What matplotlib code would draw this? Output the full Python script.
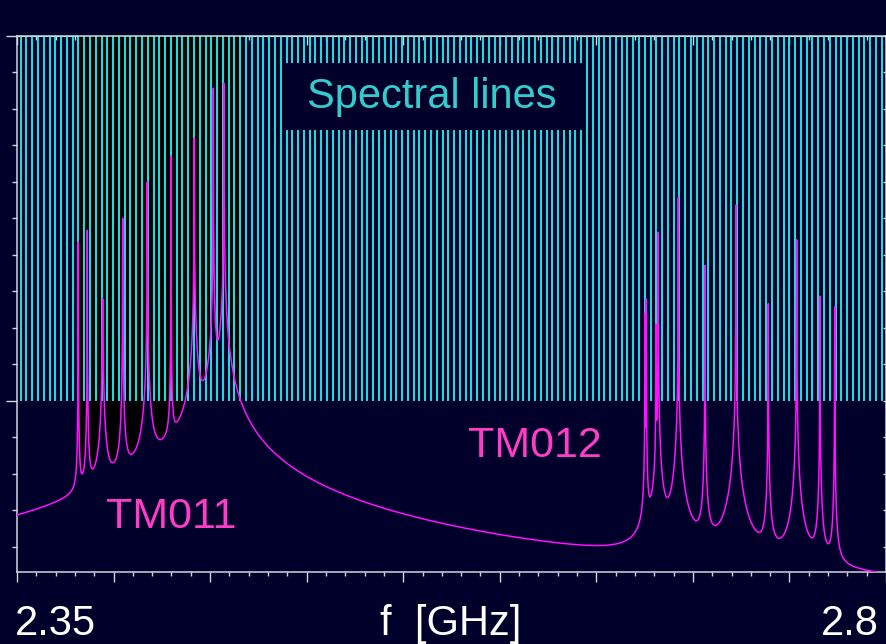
import numpy as np
import matplotlib
matplotlib.use("Agg")
import matplotlib.pyplot as plt
from matplotlib.ticker import MultipleLocator, FixedLocator
from matplotlib.patches import Rectangle

plt.rcParams["font.family"] = ["Liberation Sans", "DejaVu Sans"]

BG = "#00002a"
AXIS = "#d4d4dc"
CYAN = "#18e4e4"
MAGENTA = "#ff10ff"
LABEL_PINK = "#ff3cc8"

F_MIN, F_MAX = 2.35, 2.80
U_MIN, U_MAX = -4.69, 10.0

# TM011 passband: centre [GHz], peak level, level 0.5 MHz off the centre
tm011_freq = [2.38174, 2.38640, 2.39438, 2.40474, 2.41747, 2.42975, 2.44181, 2.45165, 2.45719]
tm011_peak = [4.35, 4.67, 2.80, 5.00, 6.00, 6.69, 7.19, 8.56, 8.70]
tm011_skirt = [-1.20, -0.65, 0.64, 0.41, 1.62, 0.43, 2.89, 3.20, 3.85]

# TM012 passband
tm012_freq = [2.67520, 2.67588, 2.68090, 2.68209, 2.69245, 2.70627, 2.72232,
              2.73905, 2.75376, 2.76582, 2.77344]
tm012_peak = [2.39, 2.79, 2.09, 4.62, 5.57, 3.71, 5.36, 2.66, 4.41, 2.87, 2.58]
tm012_skirt = [-2.00, -1.90, -1.80, -0.20, 0.20, -1.37, 0.27, -1.67, -0.52, -1.85, -2.30]

# comb of spectral lines
comb_first, comb_last, comb_count = 2.3519, 2.7978, 150
black_band = (2.3809, 2.4670)

SKIRT_OFFSET = 0.0005   # GHz
LOG_SCALE = 1.6


def spectrum(f, centres, peaks, skirts):
    centres = np.asarray(centres)[:, None]
    peaks = np.asarray(peaks)[:, None]
    skirts = np.asarray(skirts)[:, None]
    width = SKIRT_OFFSET * 10 ** ((skirts - peaks) / (2 * LOG_SCALE))
    power = 10 ** (peaks / LOG_SCALE) / (1 + ((f[None, :] - centres) / width) ** 2)
    return LOG_SCALE * np.log10(power.sum(axis=0))


centres = tm011_freq + tm012_freq
peaks = tm011_peak + tm012_peak
skirts = tm011_skirt + tm012_skirt

f = np.union1d(np.linspace(F_MIN, F_MAX, 1800), centres)
u = spectrum(f, centres, peaks, skirts)
comb = np.linspace(comb_first, comb_last, comb_count)

fig = plt.figure(figsize=(8.87, 6.44), dpi=100, facecolor=BG)
ax = fig.add_axes([17 / 887, 72 / 644, 869 / 887, 536.3 / 644])
ax.set_facecolor(BG)
ax.set_xlim(F_MIN, F_MAX)
ax.set_ylim(U_MIN, U_MAX)

band = (f >= black_band[0]) & (f <= black_band[1])
ax.fill_between(f, u, U_MAX, where=band, color="black", lw=0, zorder=1)
ax.vlines(comb, 0, U_MAX, color=CYAN, lw=1.4, zorder=2)

ax.add_patch(Rectangle((0.305, 0.8242), 0.3487, 0.125, transform=ax.transAxes,
                       facecolor=BG, edgecolor="none", zorder=3))
ax.text(2.5649, 8.32, "Spectral lines", color="#33cccc", fontsize=30,
        ha="center", va="center", zorder=4)

ax.plot(f, u, color=MAGENTA, lw=1.1, zorder=5)

ax.text(2.3961, -3.49, "TM011", color=LABEL_PINK, fontsize=31, va="baseline", zorder=6)
ax.text(2.5835, -1.54, "TM012", color=LABEL_PINK, fontsize=31, va="baseline", zorder=6)

# axes frame and ticks
for side in ax.spines.values():
    side.set_color(AXIS)
    side.set_linewidth(1.1)

ax.xaxis.set_major_locator(MultipleLocator(0.05))
ax.xaxis.set_minor_locator(MultipleLocator(0.01))
ax.yaxis.set_major_locator(FixedLocator([0, 10]))
ax.yaxis.set_minor_locator(MultipleLocator(1))
ax.tick_params(which="both", direction="out", color=AXIS, width=1.0,
               labelbottom=False, labelleft=False)
ax.tick_params(axis="x", which="major", length=7.2)
ax.tick_params(axis="x", which="minor", length=3.2)
ax.tick_params(axis="y", which="major", length=8)
ax.tick_params(axis="y", which="minor", length=3.6)

top = ax.secondary_xaxis("top")
top.xaxis.set_major_locator(MultipleLocator(0.05))
top.xaxis.set_minor_locator(MultipleLocator(0.01))
top.tick_params(which="both", direction="in", color=AXIS, width=1.0, labeltop=False)
top.tick_params(which="major", length=6.5)
top.tick_params(which="minor", length=2.9)
top.spines["top"].set_color(AXIS)

right = ax.secondary_yaxis("right")
right.yaxis.set_major_locator(MultipleLocator(1))
right.tick_params(direction="in", color=AXIS, width=1.0, length=2.5, labelright=False)
right.spines["right"].set_color(AXIS)

fig.text(15 / 887, 9 / 644, "2.35", color="white", fontsize=30, ha="left", va="baseline")
fig.text(451 / 887, 9 / 644, "f  [GHz]", color="white", fontsize=30, ha="center", va="baseline")
fig.text(879 / 887, 9 / 644, "2.8", color="white", fontsize=30, ha="right", va="baseline")

fig.savefig("out.png", dpi=100, facecolor=BG)
